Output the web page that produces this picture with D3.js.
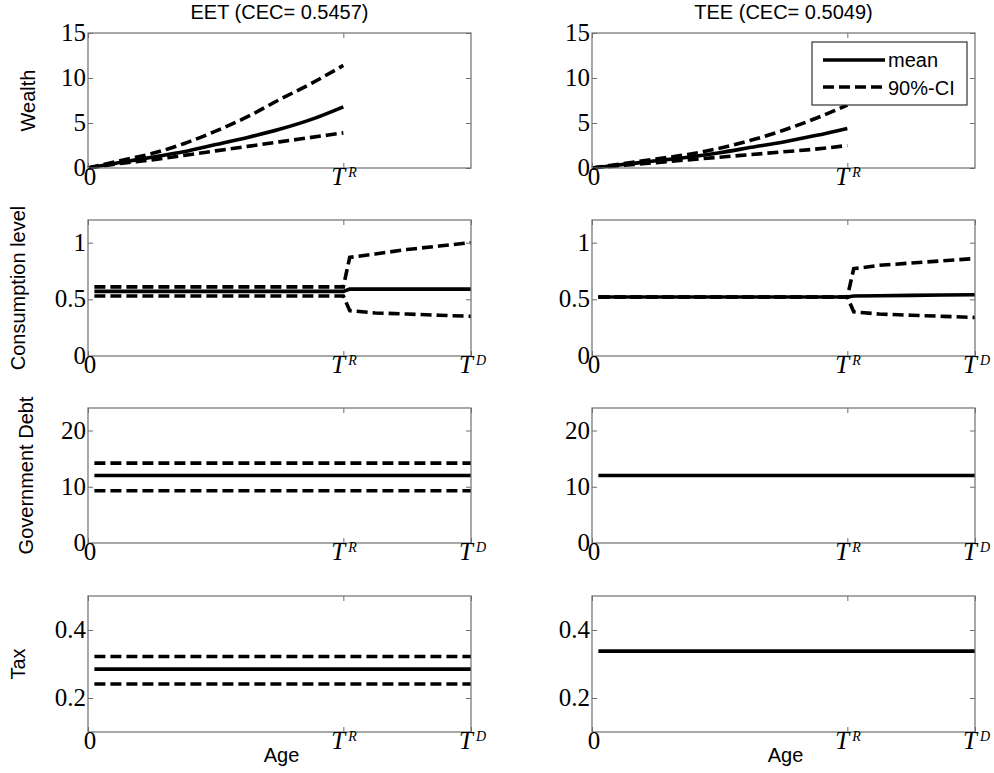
<!DOCTYPE html>
<html>
<head>
<meta charset="utf-8">
<title>EET vs TEE</title>
<script src="https://d3js.org/d3.v7.min.js"></script>
<style>
  body { margin: 0; background: #fff; }
  .tick-lab { font-family: "Liberation Serif", "Times New Roman", serif; font-size: 25px; fill: #000; }
  .lab { font-family: "Liberation Sans", Arial, sans-serif; font-size: 20px; fill: #000; }
</style>
</head>
<body>
<div id="chart"></div>
<script>
// ---- data ----
const TR = 40, TD = 60;
const titles = ["EET (CEC= 0.5457)", "TEE (CEC= 0.5049)"];
const rowLabels = ["Wealth", "Consumption level", "Government Debt", "Tax"];

const wealthAges = [0, 5, 10, 15, 20, 25, 30, 35, 40];
const eetWealthMean = [0, 0.6, 1.2, 1.8, 2.6, 3.4, 4.3, 5.4, 6.8];
const eetWealthHi   = [0, 0.8, 1.6, 2.7, 4.1, 5.7, 7.6, 9.4, 11.4];
const eetWealthLo   = [0, 0.5, 0.9, 1.4, 1.9, 2.4, 2.9, 3.4, 3.9];
const teeWealthMean = [0, 0.4, 0.8, 1.2, 1.7, 2.3, 2.9, 3.6, 4.4];
const teeWealthHi   = [0, 0.5, 1.0, 1.5, 2.2, 3.1, 4.2, 5.5, 7.0];
const teeWealthLo   = [0, 0.3, 0.6, 0.9, 1.2, 1.5, 1.8, 2.1, 2.5];

const consAges = [1, 40, 41, 45, 50, 55, 60];
const eetConsMean = [0.57, 0.57, 0.59, 0.59, 0.59, 0.59, 0.59];
const eetConsHi   = [0.61, 0.61, 0.87, 0.90, 0.94, 0.97, 1.00];
const eetConsLo   = [0.53, 0.53, 0.40, 0.38, 0.37, 0.36, 0.35];
const teeConsMean = [0.52, 0.52, 0.53, 0.532, 0.535, 0.538, 0.54];
const teeConsHi   = [0.52, 0.52, 0.77, 0.80, 0.82, 0.84, 0.86];
const teeConsLo   = [0.52, 0.52, 0.39, 0.37, 0.36, 0.35, 0.34];

const flatAges = [1, 60];
const eetDebtMean = [12, 12], eetDebtHi = [14.2, 14.2], eetDebtLo = [9.3, 9.3];
const teeDebtMean = [12, 12];
const eetTaxMean = [0.285, 0.285], eetTaxHi = [0.322, 0.322], eetTaxLo = [0.241, 0.241];
const teeTaxMean = [0.338, 0.338];

const yDomains = [[0, 15], [0, 1.2], [0, 24], [0.1, 0.5]];
const yTicks = [[0, 5, 10, 15], [0, 0.5, 1], [0, 10, 20], [0.2, 0.4]];
const xTicksRow = [[0, TR], [0, TR, TD], [0, TR, TD], [0, TR, TD]];

// ---- layout ----
const W = 994, H = 773;
const cols = [[88, 471], [592, 975]];
const rows = [[33, 168], [220, 356], [408, 543], [596, 732]];
const ylabX = [35, 25, 33, 25];

const svg = d3.select("#chart").append("svg").attr("width", W).attr("height", H);

const panels = [
  [{ x: wealthAges, mean: eetWealthMean, hi: eetWealthHi, lo: eetWealthLo },
   { x: wealthAges, mean: teeWealthMean, hi: teeWealthHi, lo: teeWealthLo }],
  [{ x: consAges, mean: eetConsMean, hi: eetConsHi, lo: eetConsLo },
   { x: consAges, mean: teeConsMean, hi: teeConsHi, lo: teeConsLo }],
  [{ x: flatAges, mean: eetDebtMean, hi: eetDebtHi, lo: eetDebtLo },
   { x: flatAges, mean: teeDebtMean }],
  [{ x: flatAges, mean: eetTaxMean, hi: eetTaxHi, lo: eetTaxLo },
   { x: flatAges, mean: teeTaxMean }]
];

const dash = "11,5";
const axisGrey = "#6e6e6e";

panels.forEach((row, r) => {
  row.forEach((p, c) => {
    const x = d3.scaleLinear().domain([0, TD]).range(cols[c]);
    const y = d3.scaleLinear().domain(yDomains[r]).range([rows[r][1], rows[r][0]]);
    const g = svg.append("g");
    const curve = r === 0 ? d3.curveMonotoneX : d3.curveLinear;
    const line = d3.line().x(d => x(d[0])).y(d => y(d[1])).curve(curve);
    const pts = arr => p.x.map((a, i) => [a, arr[i]]);

    g.append("path").attr("d", line(pts(p.mean)))
      .attr("fill", "none").attr("stroke", "#000").attr("stroke-width", 3.6);
    if (p.hi) {
      [p.hi, p.lo].forEach(s => {
        g.append("path").attr("d", line(pts(s)))
          .attr("fill", "none").attr("stroke", "#000").attr("stroke-width", 3.6)
          .attr("stroke-dasharray", dash);
      });
    }

    // frame
    g.append("rect").attr("x", cols[c][0]).attr("y", rows[r][0])
      .attr("width", cols[c][1] - cols[c][0]).attr("height", rows[r][1] - rows[r][0])
      .attr("fill", "none").attr("stroke", axisGrey).attr("stroke-width", 1.2);

    // inward ticks on all four sides
    const tk = 5;
    const strip = a => { a.select(".domain").remove(); a.selectAll("line").attr("stroke", axisGrey); };
    g.append("g").attr("transform", `translate(${cols[c][0]},0)`)
      .call(d3.axisRight(y).tickValues(yTicks[r]).tickSize(tk).tickFormat("")).call(strip);
    g.append("g").attr("transform", `translate(${cols[c][1]},0)`)
      .call(d3.axisLeft(y).tickValues(yTicks[r]).tickSize(tk).tickFormat("")).call(strip);
    g.append("g").attr("transform", `translate(0,${rows[r][1]})`)
      .call(d3.axisTop(x).tickValues(xTicksRow[r]).tickSize(tk).tickFormat("")).call(strip);
    g.append("g").attr("transform", `translate(0,${rows[r][0]})`)
      .call(d3.axisBottom(x).tickValues(xTicksRow[r]).tickSize(tk).tickFormat("")).call(strip);

    // y tick labels
    yTicks[r].forEach(v => {
      g.append("text").attr("class", "tick-lab")
        .attr("x", cols[c][0] - 2).attr("y", y(v) + 8)
        .attr("text-anchor", "end").text(d3.format("~g")(v));
    });

    // x tick labels
    xTicksRow[r].forEach(v => {
      const t = g.append("text").attr("class", "tick-lab").attr("y", rows[r][1] + 17);
      if (v === 0) {
        t.attr("x", x(v) + 2).attr("text-anchor", "middle").text("0");
      } else {
        t.attr("x", x(v) - 12).attr("font-style", "italic");
        t.append("tspan").text("T");
        t.append("tspan").attr("dx", 3).attr("dy", -8).attr("font-size", 14).text(v === TR ? "R" : "D");
      }
    });

    if (r === 0) {
      g.append("text").attr("class", "lab").attr("x", (cols[c][0] + cols[c][1]) / 2)
        .attr("y", 19).attr("text-anchor", "middle").text(titles[c]);
    }
    if (r === 3) {
      g.append("text").attr("class", "lab").attr("x", (cols[c][0] + cols[c][1]) / 2 + 2)
        .attr("y", 762).attr("text-anchor", "middle").text("Age");
    }
    if (c === 0) {
      const cy = (rows[r][0] + rows[r][1]) / 2;
      g.append("text").attr("class", "lab")
        .attr("transform", `translate(${ylabX[r]},${cy}) rotate(-90)`)
        .attr("text-anchor", "middle").text(rowLabels[r]);
    }
  });
});

// legend (top-right panel)
const lg = svg.append("g");
lg.append("rect").attr("x", 812).attr("y", 42).attr("width", 155).attr("height", 63)
  .attr("fill", "#fff").attr("stroke", "#333").attr("stroke-width", 1.2);
[["mean", null, 60, 67], ["90%-CI", dash, 87, 95]].forEach(([name, da, ly, ty]) => {
  lg.append("line").attr("x1", 823).attr("x2", 885).attr("y1", ly).attr("y2", ly)
    .attr("stroke", "#000").attr("stroke-width", 3.6).attr("stroke-dasharray", da);
  lg.append("text").attr("class", "lab").attr("x", 888).attr("y", ty).text(name);
});
</script>
</body>
</html>
